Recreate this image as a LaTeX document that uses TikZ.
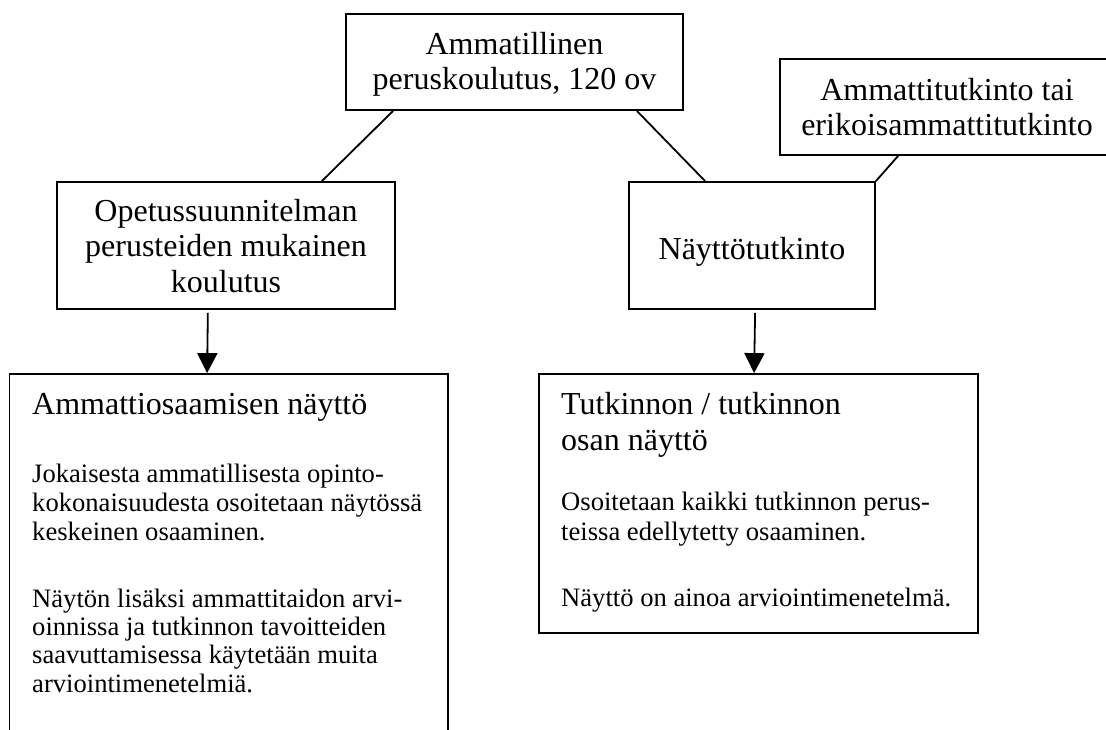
\documentclass[tikz,border=0pt]{standalone}
\usepackage{fontspec}
\setmainfont{Liberation Serif}
\usetikzlibrary{arrows.meta}
\newcommand\fbig{\fontsize{32}{35.4}\selectfont}
\newcommand\fsmall{\fontsize{26.6}{29.5}\selectfont}
\tikzset{
  box/.style={draw, line width=1.8pt, inner sep=0pt, align=center, font=\fbig},
  panel/.style={draw, line width=1.8pt, inner sep=0pt},
  link/.style={line width=1.8pt},
  arr/.style={line width=1.8pt, -{Triangle[length=20pt,width=20pt]}},
  head/.style={anchor=base west, inner sep=0pt, font=\fbig},
  body/.style={anchor=base west, inner sep=0pt, font=\fsmall},
}
\begin{document}
\begin{tikzpicture}[x=1pt,y=-1pt]
\useasboundingbox (0,0) rectangle (1106,729);
\clip (0,0) rectangle (1106,729);
\fill[white] (0,0) rectangle (1106,729);

% upper boxes
\node[box, minimum width=337pt, minimum height=96pt] (top) at (514.5,62) {\raisebox{-2pt}[\height][\depth]{Ammatillinen}\\\raisebox{-2pt}[\height][\depth]{peruskoulutus, 120 ov}};
\node[box, minimum width=337.5pt, minimum height=127pt] (opetus) at (226,245.5) {Opetussuunnitelman\\perusteiden mukainen\\\raisebox{-1pt}[\height][\depth]{koulutus}};
\node[box, minimum width=246pt, minimum height=127pt] (naytto) at (752,245.5) {\raisebox{-6pt}[\height][\depth]{Näyttötutkinto}};
\node[box, minimum width=334pt, minimum height=96pt] (amm) at (947,107) {Ammattitutkinto tai\\erikoisammattitutkinto};

% lower panels
\node[panel, minimum width=438.5pt, minimum height=386pt] (lbox) at (228.75,567) {};
\node[panel, minimum width=439pt, minimum height=259pt] (rbox) at (758.5,503.5) {};

% connectors
\draw[link] ([xshift=48pt]top.south west) -- ([xshift=265.5pt]opetus.north west);
\draw[link] ([xshift=-47pt]top.south east) -- ([xshift=77pt]naytto.north west);
\draw[link] ([xshift=119pt]amm.south west) -- (naytto.north east);
\draw[arr] ([xshift=151.5pt,yshift=-3pt]opetus.south west) -- ([xshift=198.5pt]lbox.north west);
\draw[arr] ([xshift=127pt,yshift=-3pt]naytto.south west) -- ([xshift=216pt]rbox.north west);

% left panel text
\node[head] (lh) at (32,414) {Ammattiosaamisen näyttö};
\node[body] (l1) at (32,482) {Jokaisesta ammatillisesta opinto-};
\node[body] (l2) at (32,511) {kokonaisuudesta osoitetaan näytössä};
\node[body] (l3) at (32,540) {keskeinen osaaminen.};
\node[body] (l4) at (32,607) {Näytön lisäksi ammattitaidon arvi-};
\node[body] (l5) at (32,635) {oinnissa ja tutkinnon tavoitteiden};
\node[body] (l6) at (32,663) {saavuttamisessa käytetään muita};
\node[body] (l7) at (32,692) {arviointimenetelmiä.};

% right panel text
\node[head] (rh1) at (561,414) {Tutkinnon / tutkinnon};
\node[head] (rh2) at (561,450) {osan näyttö};
\node[body] (r1) at (561,510) {Osoitetaan kaikki tutkinnon perus-};
\node[body] (r2) at (561,540) {teissa edellytetty osaaminen.};
\node[body] (r3) at (561,606) {Näyttö on ainoa arviointimenetelmä.};
\end{tikzpicture}
\end{document}
